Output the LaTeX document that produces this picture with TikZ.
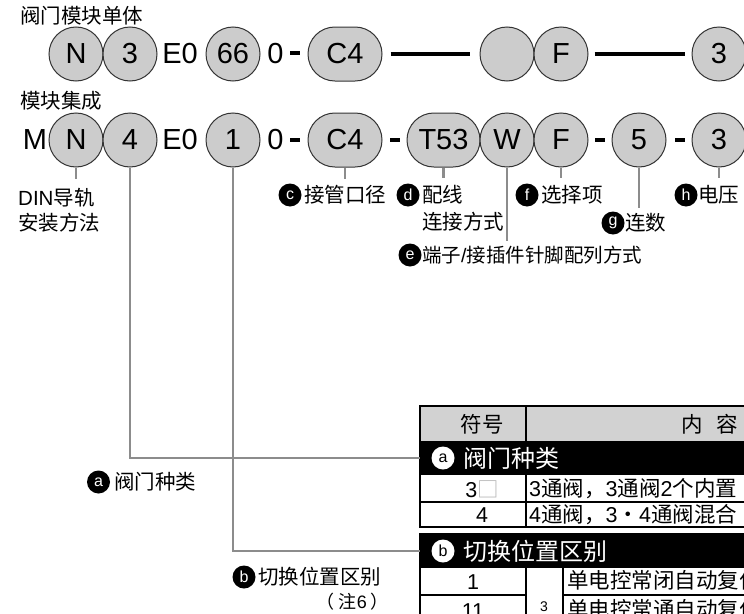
\documentclass[tikz,border=0pt]{standalone}
\usepackage{fontspec}
\setmainfont{Liberation Sans}
\newfontfamily\cjk{Noto Sans CJK SC}
\newfontfamily\lat{Liberation Sans}
\usetikzlibrary{calc}
\definecolor{cfill}{RGB}{204,204,204}
\definecolor{cline}{RGB}{51,51,51}
\definecolor{connc}{RGB}{140,140,140}
\definecolor{hdr}{RGB}{210,210,210}
\tikzset{
 big/.style={font=\lat\fontsize{29}{29}\selectfont, inner sep=0},
 cir/.style={circle, draw=cline, line width=1, fill=cfill, minimum size=54, big},
 stad/.style={rectangle, rounded corners=26.9, draw=cline, line width=1, fill=cfill, minimum height=54, big},
 barbox/.style={fill=black, inner sep=0, minimum width=10, minimum height=4},
 lbl/.style={font=\cjk\fontsize{20.5}{20.5}\selectfont, inner sep=0, anchor=west},
 bul/.style={circle, fill=black, text=white, minimum size=23, inner sep=0, font=\lat\fontsize{16}{16}\selectfont},
 wbul/.style={circle, fill=white, text=black, minimum size=23, inner sep=0, font=\lat\fontsize{16}{16}\selectfont},
 conn/.style={draw=connc, line width=2.2},
 tb/.style={font=\cjk\fontsize{21.5}{21.5}\selectfont, inner sep=0},
 tbh/.style={font=\cjk\fontsize{24}{24}\selectfont, inner sep=0, text=white, anchor=west},
 blackrow/.style={rectangle, fill=black, minimum width=480, minimum height=34, inner sep=0, anchor=north west},
 thin/.style={line width=1.2},
 thick/.style={line width=2.5},
}
\begin{document}
\begin{tikzpicture}[x=1pt,y=-1pt]
\useasboundingbox (0,0) rectangle (744,613);
\clip (0,0) rectangle (744,613);
% titles
\node[lbl] (title1) at (20,16) {阀门模块单体};
\node[lbl] (title2) at (20,101) {模块集成};
% row 1
\node[cir] (aN) at (76,54) {N};
\node[cir] (a3) at (130,54) {3};
\node[big] (aE) at (180,54) {E0};
\node[cir] (a66) at (233,54) {66};
\node[big] (a0) at (275.5,54) {0};
\node[barbox] (ad) at (295,53) {};
\node[stad, minimum width=74] (aC) at (345,54) {C4};
\node[cir] (aW) at (507,54) {};
\node[cir] (aF) at (561,54) {F};
\node[cir] (aV) at (719,54) {3};
\draw[line width=4, shorten <=8, shorten >=10] (aC.east) -- (aW.west);
\draw[line width=4, shorten <=6, shorten >=7] (aF.east) -- (aV.west);
% row 2
\node[big] (bM) at (35,140) {M};
\node[cir] (bN) at (76,140) {N};
\node[cir] (b4) at (130,140) {4};
\node[big] (bE) at (180,140) {E0};
\node[cir] (b1) at (233,140) {1};
\node[big] (b0) at (275.5,140) {0};
\node[barbox] (bd1) at (295,140) {};
\node[stad, minimum width=74] (bC) at (345,140) {C4};
\node[barbox] (bd2) at (394.5,140) {};
\node[stad, minimum width=73] (bT) at (443.5,140) {T53};
\node[cir] (bW) at (507,140) {W};
\node[cir] (bF) at (561,140) {F};
\node[barbox] (bd3) at (600,140) {};
\node[cir] (b5) at (639,140) {5};
\node[barbox] (bd4) at (679.5,140) {};
\node[cir] (bV) at (719,140) {3};
% labels above
\coordinate (tN) at (76,179);
\draw[conn] (bN.south) -- (tN);
\node[lbl] (din1) at (18,198) {{\lat DIN}导轨};
\node[lbl] (din2) at (18,223) {安装方法};
\coordinate (tC) at (345,179);
\draw[conn] (bC.south) -- (tC);
\node[bul] (cc) at (290,195) {c};
\node[lbl] (lc) at (304,195) {接管口径};
\coordinate (tD) at (443.5,178);
\draw[conn] (bT.south) -- (tD);
\node[bul] (cd) at (408,195) {d};
\node[lbl] (ld1) at (422,195) {配线};
\node[lbl] (ld2) at (422,222) {连接方式};
\coordinate (tE) at (507,241);
\draw[conn] (bW.south) -- (tE);
\node[bul] (ce) at (410,255) {e};
\node[lbl, font=\cjk\fontsize{19.5}{19.5}\selectfont] (le) at (422,255) {端子{\lat /}接插件针脚配列方式};
\coordinate (tF) at (561,178);
\draw[conn] (bF.south) -- (tF);
\node[bul] (cf) at (527,195) {f};
\node[lbl] (lf) at (541,195) {选择项};
\coordinate (tG) at (639,208);
\draw[conn] (b5.south) -- (tG);
\node[bul] (cg) at (613,223) {g};
\node[lbl] (lg) at (625,223) {连数};
\coordinate (tH) at (719,178);
\draw[conn] (bV.south) -- (tH);
\node[bul] (ch) at (686,195) {h};
\node[lbl] (lh) at (698,195) {电压};
% table 1
\fill[hdr] (420,406) rectangle (900,441);
\node[tb] (h1) at (482,424) {符号};
\node[tb, anchor=west] (h2) at (681,424) {内\hspace{14pt}容};
\node[blackrow] (rowa) at (420,441) {};
\node[wbul] (ca) at (443,458) {a};
\node[tbh] (ta) at (463,458) {阀门种类};
\draw[thin] (420,502) -- (900,502);
\draw[thin] (526,406) -- (526,441);
\draw[thin] (526,475) -- (526,527);
\node[tb] (s31) at (482,489) {{\lat 3}\textcolor{gray!60}{□}};
\node[tb, anchor=west] (s32) at (529,489) {{\lat 3}通阀，{\lat 3}通阀{\lat 2}个内置};
\node[tb] (s41) at (482,515) {\lat 4};
\node[tb, anchor=west] (s42) at (529,515) {{\lat 4}通阀，{\lat 3}・{\lat 4}通阀混合};
\draw[thick] (420,406) rectangle (900,527);
% table 2
\node[blackrow] (rowb) at (420,534) {};
\node[wbul] (cb) at (443,551) {b};
\node[tbh] (tbb) at (463,551) {切换位置区别};
\draw[thin] (526,568) -- (526,620);
\draw[thin] (563,568) -- (563,620);
\draw[thin] (420,595) -- (526,595);
\draw[thin] (563,595) -- (900,595);
\node[tb] (r11) at (473,582) {\lat 1};
\node[tb] (r21) at (473,611) {\lat 11};
\node[font=\lat\fontsize{14}{14}\selectfont, inner sep=0] (r3) at (544,607) {3};
\node[tb, anchor=west] (r12) at (567,580) {单电控常闭自动复位};
\node[tb, anchor=west] (r22) at (567,609) {单电控常通自动复位};
\draw[thick] (420,534) rectangle (900,640);
% connectors to table
\draw[conn] (b4.south) |- (rowa.west);
\draw[conn] (b1.south) |- (rowb.west);
\node[bul] (la) at (98.5,482) {a};
\node[lbl] (lat) at (114,482) {阀门种类};
\node[bul] (lb) at (244,577) {b};
\node[lbl] (lbt) at (258,577) {切换位置区别};
\node[font=\cjk\fontsize{18}{18}\selectfont, inner sep=0, anchor=east] (note) at (389,602) {（\hspace{4pt}注{\lat 6}\hspace{4pt}）};
\end{tikzpicture}
\end{document}
